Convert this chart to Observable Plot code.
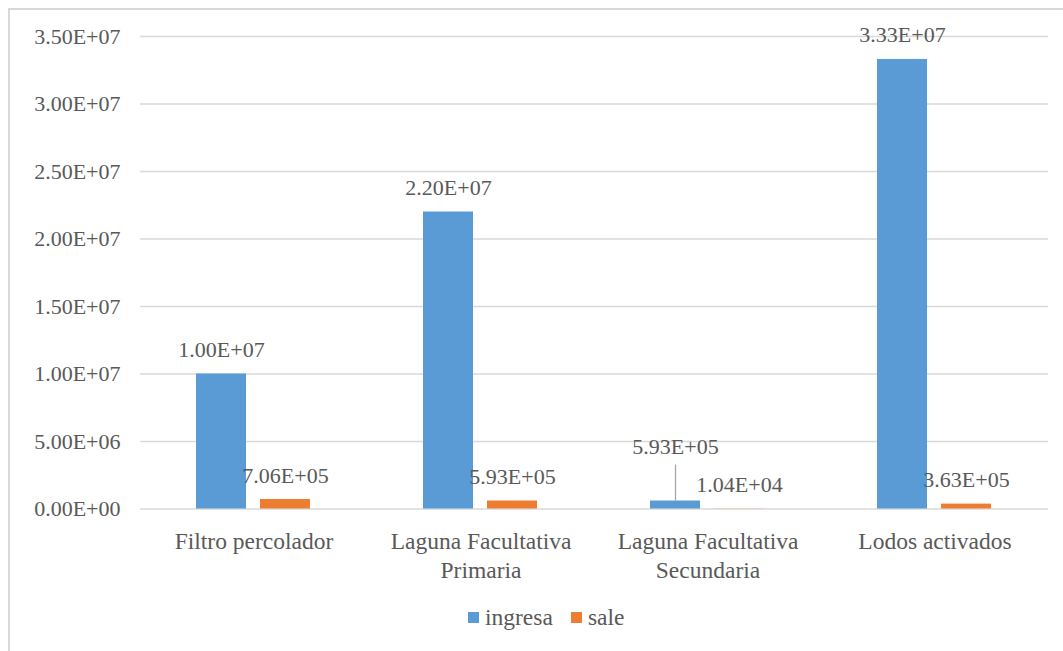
<!DOCTYPE html>
<html>
<head>
<meta charset="utf-8">
<script src="https://cdn.jsdelivr.net/npm/d3@7"></script>
<script src="https://cdn.jsdelivr.net/npm/@observablehq/plot@0.6"></script>
<style>
  html, body { margin: 0; padding: 0; background: #fff; overflow: hidden; }
  body { width: 1063px; height: 651px; position: relative; font-family: "Liberation Serif", "DejaVu Serif", "Noto Serif", Tinos, "Times New Roman", serif; }
  #frame { position: absolute; left: 8px; top: 8px; width: 1100px; height: 700px; border: 2px solid #d9d9d9; box-sizing: border-box; }
  #chart { position: absolute; left: 0; top: 0; }
  #chart svg, #chart svg text { font-family: "Liberation Serif", "DejaVu Serif", "Noto Serif", Tinos, "Times New Roman", serif !important; }
  #legend { position: absolute; left: 468px; top: 603px; display: flex; align-items: center; font-size: 23.5px; color: #595959; line-height: 28px; }
  #legend .sw { width: 11px; height: 11px; display: inline-block; margin-right: 6px; }
  #legend .item { display: flex; align-items: center; margin-right: 18px; }
</style>
</head>
<body>
<div id="frame"></div>
<div id="chart"></div>
<div id="legend"></div>
<script>
const categories = ["Filtro percolador", "Laguna Facultativa\nPrimaria", "Laguna Facultativa\nSecundaria", "Lodos activados"];
const series = ["ingresa", "sale"];
const ingresa = [1.00e7, 2.20e7, 5.93e5, 3.33e7];
const sale = [7.06e5, 5.93e5, 1.04e4, 3.63e5];
const yTicks = [0, 5e6, 1e7, 1.5e7, 2e7, 2.5e7, 3e7, 3.5e7];
const colors = ["#5B9BD5", "#ED7D31"];

const fmt = d => {
  const [m, e] = d.toExponential(2).split("e");
  return m + "E" + e[0] + e.slice(1).padStart(2, "0");
};

const data = [];
categories.forEach((c, i) => {
  data.push({cat: c, s: "ingresa", v: ingresa[i]});
  data.push({cat: c, s: "sale", v: sale[i]});
});

// Label displaced upward with a leader line (Excel-style) for the small overlapping value
const isLeader = d => d.cat === categories[2] && d.s === "ingresa";
const normalLabels = data.filter(d => !isLeader(d));
const leaderLabels = data.filter(isLeader);

const textColor = "#595959";
const serif = '"Liberation Serif", "DejaVu Serif", "Noto Serif", Tinos, "Times New Roman", serif';

const chart = Plot.plot({
  width: 1063,
  height: 651,
  marginLeft: 140,
  marginRight: 15,
  marginTop: 36,
  marginBottom: 142.5,
  style: {fontFamily: serif, background: "transparent"},
  fx: {domain: categories, padding: 0, axis: null},
  x: {domain: series, paddingInner: 0.212, paddingOuter: 0.86, align: 0.5, axis: null},
  y: {domain: [0, 3.5e7], axis: null},
  color: {domain: series, range: colors},
  marks: [
    Plot.gridY(yTicks, {stroke: "#d9d9d9", strokeOpacity: 1, strokeWidth: 1.3}),
    Plot.axisY(yTicks, {tickSize: 0, tickPadding: 20, tickFormat: fmt, fontSize: 22, fill: textColor, anchor: "left", label: null}),
    Plot.barY(data, {fx: "cat", x: "s", y: "v", fill: "s"}),
    Plot.text(normalLabels, {fx: "cat", x: "s", y: "v", text: d => fmt(d.v), dy: -24, fontSize: 22, fill: textColor}),
    Plot.text(leaderLabels, {fx: "cat", x: "s", y: "v", text: d => fmt(d.v), dy: -54, fontSize: 22, fill: textColor}),
    Plot.ruleX(leaderLabels, {fx: "cat", x: "s", y1: "v", y2: "v", insetTop: -36, stroke: "#a6a6a6", strokeWidth: 1.3}),
    Plot.text(categories, {fx: d => d, frameAnchor: "bottom", lineAnchor: "top", dy: 19, lineHeight: 1.255, fontSize: 23.5, fill: textColor})
  ]
});
document.getElementById("chart").appendChild(chart);

const legend = document.getElementById("legend");
series.forEach((s, i) => {
  const item = document.createElement("span");
  item.className = "item";
  const sw = document.createElement("span");
  sw.className = "sw";
  sw.style.background = colors[i];
  item.appendChild(sw);
  item.appendChild(document.createTextNode(s));
  legend.appendChild(item);
});
</script>
</body>
</html>
